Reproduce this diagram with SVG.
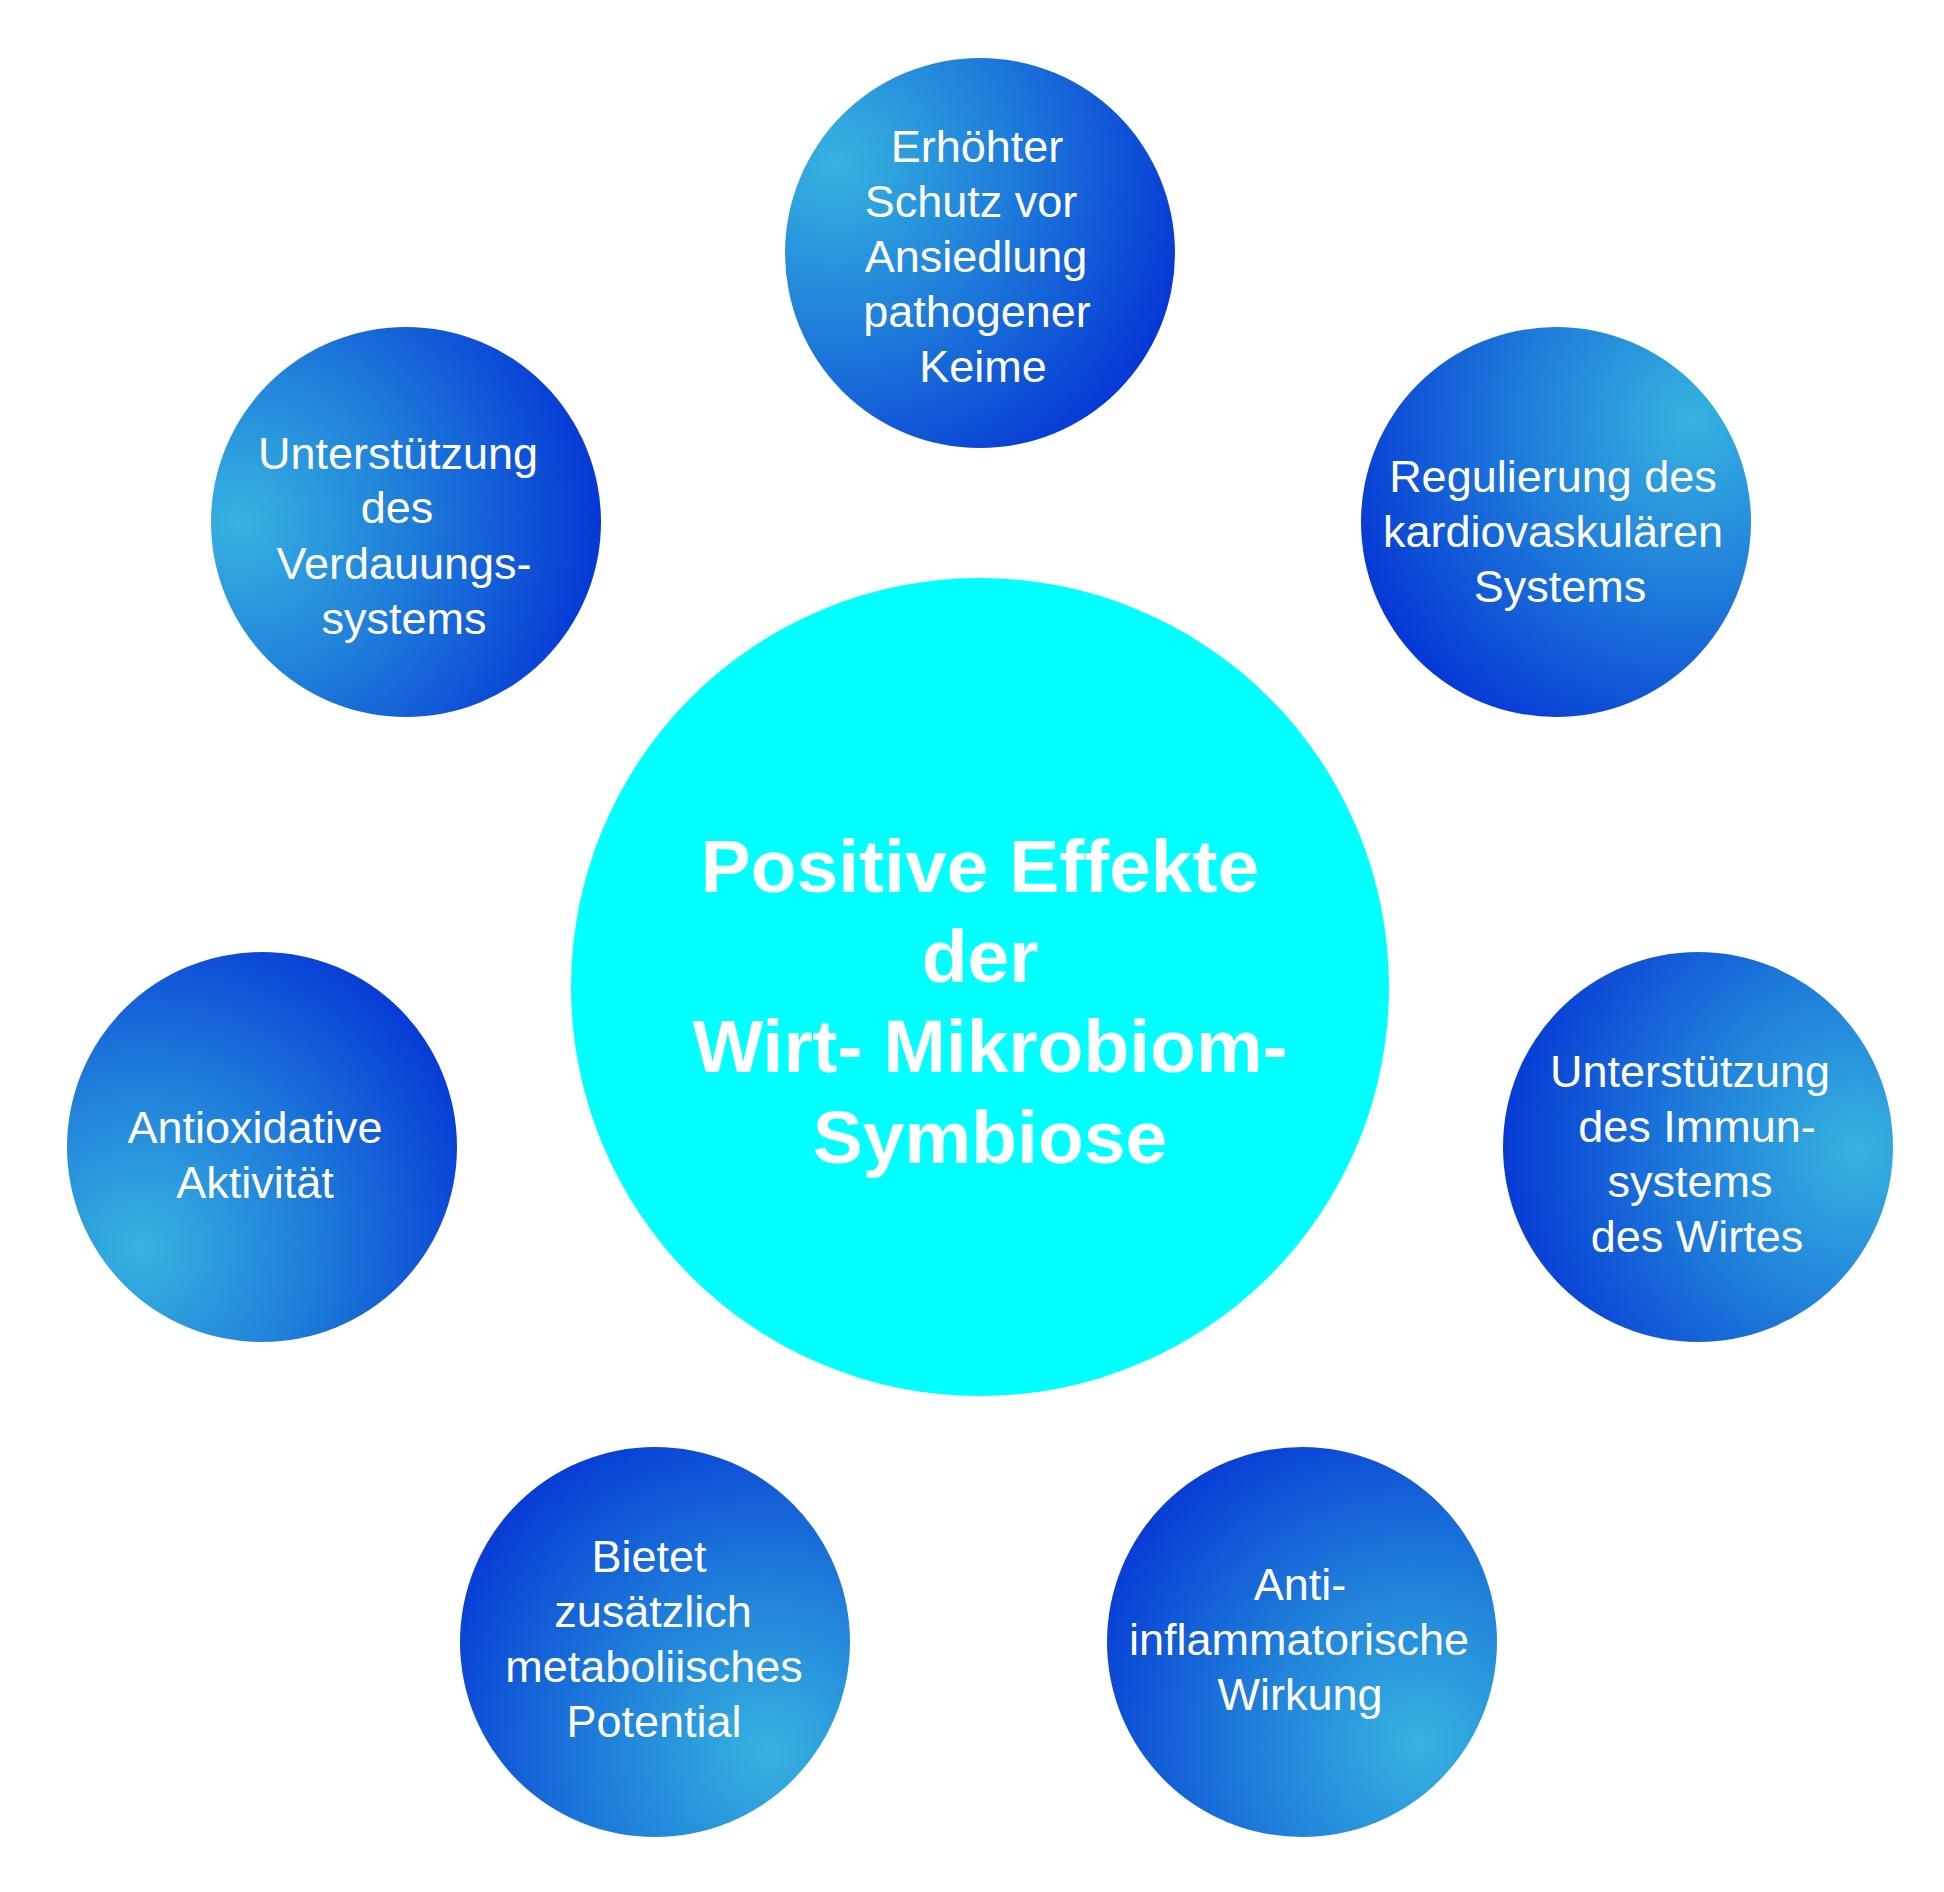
<svg xmlns="http://www.w3.org/2000/svg" width="1944" height="1892" viewBox="0 0 1944 1892">
<style>
.bub { stroke: none; }
.t { font-family: "Liberation Sans", Arial, sans-serif; font-size: 45px; fill: #ffffff; text-anchor: middle; }
.tc { font-family: "Liberation Sans", Arial, sans-serif; font-size: 75px; font-weight: bold; fill: #ffffff; text-anchor: middle; }
</style>
<defs>
<radialGradient id="gTop" cx="0.13" cy="0.27" r="0.95">
<stop offset="0" stop-color="#36B3E0"/><stop offset="0.45" stop-color="#1F7FDA"/><stop offset="1" stop-color="#0535D5"/>
</radialGradient>
<radialGradient id="gUL" cx="0.07" cy="0.50" r="0.95">
<stop offset="0" stop-color="#36B3E0"/><stop offset="0.45" stop-color="#1F7FDA"/><stop offset="1" stop-color="#0535D5"/>
</radialGradient>
<radialGradient id="gUR" cx="0.85" cy="0.24" r="0.95">
<stop offset="0" stop-color="#36B3E0"/><stop offset="0.45" stop-color="#1F7FDA"/><stop offset="1" stop-color="#0535D5"/>
</radialGradient>
<radialGradient id="gL" cx="0.19" cy="0.76" r="0.95">
<stop offset="0" stop-color="#36B3E0"/><stop offset="0.45" stop-color="#1F7FDA"/><stop offset="1" stop-color="#0535D5"/>
</radialGradient>
<radialGradient id="gR" cx="0.91" cy="0.51" r="0.95">
<stop offset="0" stop-color="#36B3E0"/><stop offset="0.45" stop-color="#1F7FDA"/><stop offset="1" stop-color="#0535D5"/>
</radialGradient>
<radialGradient id="gBL" cx="0.79" cy="0.78" r="0.95">
<stop offset="0" stop-color="#36B3E0"/><stop offset="0.45" stop-color="#1F7FDA"/><stop offset="1" stop-color="#0535D5"/>
</radialGradient>
<radialGradient id="gBR" cx="0.80" cy="0.76" r="0.95">
<stop offset="0" stop-color="#36B3E0"/><stop offset="0.45" stop-color="#1F7FDA"/><stop offset="1" stop-color="#0535D5"/>
</radialGradient>
</defs>
<rect width="1944" height="1892" fill="#ffffff"/>
<g id="connectors"></g>
<g id="center">
<circle cx="980" cy="987" r="409" fill="#00FFFF"/>
<text class="tc" x="980" y="892">Positive Effekte</text>
<text class="tc" x="980" y="982">der</text>
<text class="tc" x="990" y="1072">Wirt- Mikrobiom-</text>
<text class="tc" x="990" y="1163">Symbiose</text>
</g>
<g id="node-schutz">
<circle class="bub" cx="980" cy="253" r="195" fill="url(#gTop)"/>
<text class="t" x="977" y="162">Erhöhter</text>
<text class="t" x="971" y="217">Schutz vor</text>
<text class="t" x="976" y="272">Ansiedlung</text>
<text class="t" x="977" y="327">pathogener</text>
<text class="t" x="983" y="382">Keime</text>
</g>
<g id="node-verdauung">
<circle class="bub" cx="406" cy="522" r="195" fill="url(#gUL)"/>
<text class="t" x="398" y="469">Unterstützung</text>
<text class="t" x="397" y="523">des</text>
<text class="t" x="404" y="579">Verdauungs-</text>
<text class="t" x="404" y="634">systems</text>
</g>
<g id="node-kardio">
<circle class="bub" cx="1556" cy="522" r="195" fill="url(#gUR)"/>
<text class="t" x="1553" y="492">Regulierung des</text>
<text class="t" x="1553" y="547">kardiovaskulären</text>
<text class="t" x="1560" y="602">Systems</text>
</g>
<g id="node-antioxidativ">
<circle class="bub" cx="262" cy="1147" r="195" fill="url(#gL)"/>
<text class="t" x="255" y="1143">Antioxidative</text>
<text class="t" x="255" y="1198">Aktivität</text>
</g>
<g id="node-immun">
<circle class="bub" cx="1698" cy="1147" r="195" fill="url(#gR)"/>
<text class="t" x="1690" y="1087">Unterstützung</text>
<text class="t" x="1697" y="1142">des Immun-</text>
<text class="t" x="1690" y="1197">systems</text>
<text class="t" x="1697" y="1252">des Wirtes</text>
</g>
<g id="node-metabolisch">
<circle class="bub" cx="655" cy="1642" r="195" fill="url(#gBL)"/>
<text class="t" x="649" y="1572">Bietet</text>
<text class="t" x="653" y="1627">zusätzlich</text>
<text class="t" x="654" y="1682">metaboliisches</text>
<text class="t" x="654" y="1737">Potential</text>
</g>
<g id="node-antiinflammatorisch">
<circle class="bub" cx="1302" cy="1642" r="195" fill="url(#gBR)"/>
<text class="t" x="1300" y="1600">Anti-</text>
<text class="t" x="1299" y="1655">inflammatorische</text>
<text class="t" x="1300" y="1710">Wirkung</text>
</g>
</svg>
